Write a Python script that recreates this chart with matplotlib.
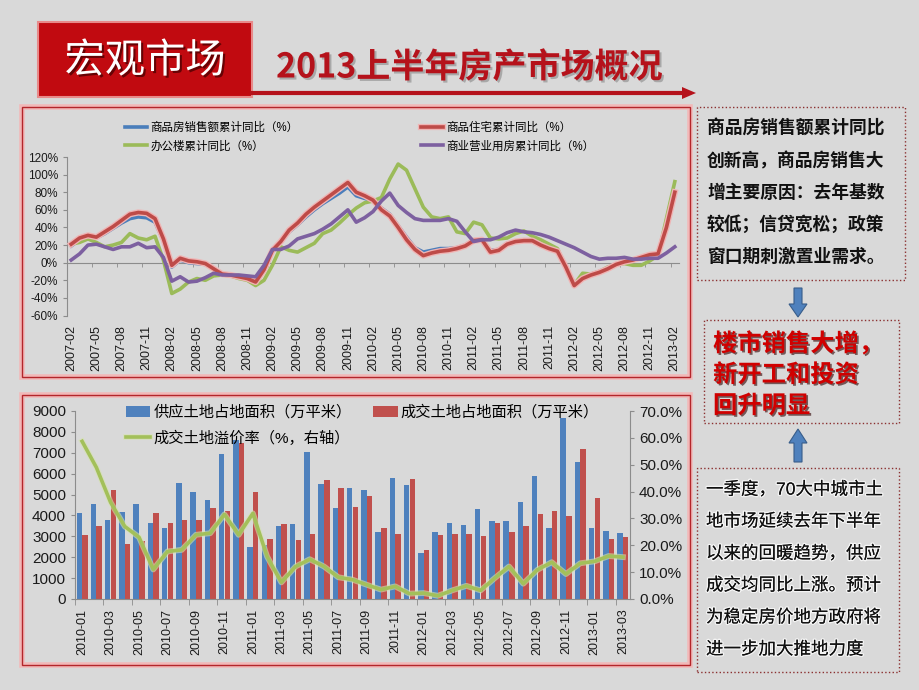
import matplotlib
matplotlib.use('Agg')
import matplotlib.pyplot as plt
import matplotlib.patheffects as pe
from matplotlib.patches import Rectangle, Polygon
from matplotlib.lines import Line2D
import numpy as np
import pandas as pd

plt.rcParams['font.family'] = ['Liberation Sans', 'Noto Sans CJK SC', 'DejaVu Sans']
plt.rcParams['axes.unicode_minus'] = False

W, H = 920, 690


def fx(x):
    return x / W


def fy(y):
    return 1 - y / H


# ---- top chart: cumulative YoY growth (%), 2007-02 .. 2013-02
months_top = pd.date_range('2007-02', '2013-02', freq='MS').strftime('%Y-%m').tolist()

sales_yoy = [19, 26, 29, 28, 33, 39, 45, 50, 52, 51, 46, 25,
             -5, 3, 0, -1, -2, -7, -13, -14, -15, -17, -20, -6,
             14, 23, 35, 43, 52, 60, 67, 73, 79, 86, 76, 73,
             70, 62, 55, 42, 29, 17, 12, 14, 16, 16, 17, 20,
             26, 26, 14, 15, 22, 24, 25, 24, 20, 16, 13, -5,
             -25, -17, -13, -10, -6, -2, 1, 3, 6, 8, 10, 38, 77]
housing_yoy = [21, 28, 31, 29, 35, 41, 48, 55, 57, 56, 50, 27,
               -3, 5, 2, 1, -1, -7, -13, -14, -16, -18, -22, -8,
               14, 24, 37, 45, 55, 63, 70, 77, 84, 91, 80, 76,
               71, 60, 53, 40, 26, 15, 8, 11, 13, 14, 16, 19,
               25, 26, 12, 14, 21, 24, 25, 25, 20, 16, 13, -5,
               -26, -18, -14, -11, -7, -2, 1, 3, 6, 9, 10, 40, 80]
office_yoy = [21, 23, 27, 23, 18, 20, 23, 33, 28, 26, 30, 3,
              -35, -30, -22, -18, -20, -15, -14, -15, -18, -20, -26, -20,
              -3, 18, 14, 12, 17, 22, 33, 37, 45, 54, 62, 68,
              70, 74, 95, 112, 105, 84, 63, 52, 50, 52, 35, 33,
              46, 43, 28, 27, 28, 33, 36, 30, 26, 21, 16, -5,
              -25, -12, -13, -10, -5, -2, -1, -3, -3, 2, 8, 50, 92]
commercial_yoy = [3, 10, 20, 21, 18, 15, 18, 18, 22, 17, 18, 6,
                  -21, -16, -22, -21, -17, -12, -14, -14, -14, -15, -16, -3,
                  15, 15, 19, 27, 30, 33, 38, 44, 52, 60, 46, 51,
                  58, 70, 79, 65, 57, 50, 48, 48, 48, 50, 47, 35,
                  24, 26, 26, 29, 34, 37, 35, 34, 32, 29, 25, 21,
                  17, 12, 7, 4, 5, 5, 6, 4, 4, 5, 5, 11, 18]

# ---- bottom chart: land supply / deals (10k m2) and premium rate (%)
months_bot = pd.date_range('2010-01', '2013-03', freq='MS').strftime('%Y-%m').tolist()

land_supply = [4110, 4560, 3780, 4160, 4560, 3620, 3410, 5570, 5100, 4760, 6920, 7600,
               2500, 2590, 3480, 3600, 7030, 5510, 4380, 5330, 5240, 3210, 5790, 5440,
               2220, 3190, 3630, 3560, 4290, 3750, 3750, 4650, 5900, 3400, 8650, 6550,
               3400, 3250, 3150]
land_deal = [3050, 3480, 5240, 2650, 2800, 4140, 3630, 3780, 3780, 4350, 4190, 7460,
             5130, 2870, 3600, 2810, 3130, 5680, 5290, 4400, 4920, 3380, 3110, 5760,
             2350, 3060, 3110, 3100, 3030, 3650, 3200, 3500, 4050, 4200, 3950, 7200,
             4850, 2850, 2950]
premium_rate = [58.7, 49, 36, 27, 23, 11, 17.7, 18.3, 23.9, 24.5, 31.5, 23.9,
                31.9, 15.8, 6.2, 12.1, 14.8, 12.1, 8.1, 7.2, 5.3, 3.5, 4.7, 2.0,
                2.2, 1.2, 3.2, 4.9, 3.2, 7.8, 12.1, 5.7, 10.9, 13.7, 9.3, 13.3,
                14.0, 16.0, 15.6]

note_top = ['商品房销售额累计同比', '创新高，商品房销售大', '增主要原因：去年基数',
            '较低；信贷宽松；政策', '窗口期刺激置业需求。']
note_mid = ['楼市销售大增，', '新开工和投资', '回升明显']
note_bot = ['一季度，70大中城市土', '地市场延续去年下半年', '以来的回暖趋势，供应',
            '成交均同比上涨。预计', '为稳定房价地方政府将', '进一步加大推地力度']

BG = '#d9d9d9'
fig = plt.figure(figsize=(9.2, 6.9), dpi=100, facecolor=BG)


def frame(x0, y0, x1, y1, glow=True, ls='-', ec='#b3262b', lw=1.0):
    if glow:
        fig.patches.append(Rectangle((fx(x0), fy(y1)), fx(x1) - fx(x0), fy(y0) - fy(y1),
                                     transform=fig.transFigure, fill=False,
                                     ec='#f2b8b8', lw=4, zorder=0))
    fig.patches.append(Rectangle((fx(x0), fy(y1)), fx(x1) - fx(x0), fy(y0) - fy(y1),
                                 transform=fig.transFigure, fill=False,
                                 ec=ec, lw=lw, ls=ls, zorder=1))


# header
fig.patches.append(Rectangle((fx(38), fy(97)), fx(252) - fx(38), fy(22) - fy(97),
                             transform=fig.transFigure, fc='#c10a10', ec='#e88a8a', lw=1.5))
fig.text(fx(145), fy(61), '宏观市场', color='white', fontsize=29, ha='center', va='center',
         family=['Noto Sans CJK SC'],
         path_effects=[pe.withSimplePatchShadow(offset=(1.5, -1.5), shadow_rgbFace='#400000', alpha=0.7)])
fig.text(fx(276), fy(67), '2013上半年房产市场概况', color='#b5121b', fontsize=24.5,
         fontweight='bold', ha='left', va='center', family=['Noto Sans CJK SC'],
         path_effects=[pe.withSimplePatchShadow(offset=(1.5, -1.5), shadow_rgbFace='#888888', alpha=0.6)])
fig.lines.append(Line2D([fx(252), fx(684)], [fy(93), fy(93)], transform=fig.transFigure,
                        color='#b5121b', lw=3))
fig.patches.append(Polygon([(fx(682), fy(87)), (fx(696), fy(93)), (fx(682), fy(99))],
                           closed=True, transform=fig.transFigure, fc='#b5121b', ec='none'))

frame(22, 107, 690, 377)
frame(22, 395, 690, 665)

# ---- top chart
ax1 = fig.add_axes([fx(67), fy(315.5), fx(679) - fx(67), fy(157) - fy(315.5)])
ax1.set_facecolor('none')
xt = np.arange(len(months_top))
l_sales, = ax1.plot(xt, sales_yoy, color='#4a7ebb', lw=2.6, zorder=3)
l_house, = ax1.plot(xt, housing_yoy, color='#be4b48', lw=2.6, zorder=4,
                    path_effects=[pe.Stroke(linewidth=4.5, foreground='#f0b4b4'), pe.Normal()])
l_office, = ax1.plot(xt, office_yoy, color='#9bbb59', lw=2.6, zorder=3)
l_comm, = ax1.plot(xt, commercial_yoy, color='#7d60a0', lw=2.6, zorder=5)
ax1.set_xlim(-0.5, len(months_top) - 0.5)
ax1.set_ylim(-60, 120)
ax1.set_yticks(range(-60, 121, 20))
ax1.set_yticklabels([f'{v}%' for v in range(-60, 121, 20)])
ax1.spines['bottom'].set_position(('data', 0))
for s in ['top', 'right']:
    ax1.spines[s].set_visible(False)
for s in ['left', 'bottom']:
    ax1.spines[s].set_color('#8c8c8c')
ax1.set_xticks(xt[::3])
ax1.set_xticklabels(months_top[::3], rotation=90)
ax1.set_xticks(np.arange(2.5, len(months_top), 3), minor=True)
ax1.tick_params(axis='x', which='major', length=0, pad=45, labelsize=9, colors='#1a1a1a')
ax1.tick_params(axis='x', which='minor', length=3, color='#8c8c8c')
ax1.tick_params(axis='y', length=3, color='#8c8c8c', labelsize=8.5, labelcolor='#1a1a1a')
ax1.legend([l_sales, l_office, l_house, l_comm],
           ['商品房销售额累计同比（%）', '办公楼累计同比（%）', '商品住宅累计同比（%）', '商业营业用房累计同比（%）'],
           ncol=2, loc='upper left', bbox_to_anchor=(fx(125), fy(122)), bbox_transform=fig.transFigure,
           frameon=False, fontsize=8.3, handlelength=1.9, handletextpad=0.3,
           columnspacing=10.6, labelspacing=0.55, borderpad=0, borderaxespad=0)

# ---- bottom chart
ax2 = fig.add_axes([fx(75), fy(599), fx(630) - fx(75), fy(411) - fy(599)])
ax2.set_facecolor('none')
xb = np.arange(len(months_bot))
b1 = ax2.bar(xb - 0.2, land_supply, 0.38, color='#4f81bd', zorder=2)
b2 = ax2.bar(xb + 0.2, land_deal, 0.38, color='#c0504d', zorder=2)
ax2.set_xlim(-0.5, len(months_bot) - 0.5)
ax2.set_ylim(0, 9000)
ax2.set_yticks(range(0, 9001, 1000))
ax2.set_xticks(xb[::2])
ax2.set_xticklabels(months_bot[::2], rotation=90)
ax2.set_xticks(np.arange(-0.5, len(months_bot), 2), minor=True)
ax2.tick_params(axis='x', which='major', length=0, pad=7, labelsize=9, colors='#1a1a1a')
ax2.tick_params(axis='x', which='minor', length=4, color='#8c8c8c')
ax2.tick_params(axis='y', length=3, color='#8c8c8c', labelsize=11, labelcolor='#1a1a1a')
for s in ['top', 'right']:
    ax2.spines[s].set_visible(False)
for s in ['left', 'bottom']:
    ax2.spines[s].set_color('#8c8c8c')

ax3 = ax2.twinx()
l_prem, = ax3.plot(xb, premium_rate, color='#a3c05a', lw=2.6, zorder=5,
                   path_effects=[pe.Stroke(linewidth=4.2, foreground='#d6e3b0', alpha=0.6), pe.Normal()])
ax3.set_ylim(0, 70)
ax3.set_yticks(range(0, 71, 10))
ax3.set_yticklabels([f'{v:.1f}%' for v in range(0, 71, 10)])
ax3.tick_params(axis='y', length=3, color='#8c8c8c', labelsize=11, labelcolor='#1a1a1a')
for s in ['top', 'left', 'bottom']:
    ax3.spines[s].set_visible(False)
ax3.spines['right'].set_color('#8c8c8c')
ax3.legend([b1, l_prem, b2],
           ['供应土地占地面积（万平米）', '成交土地溢价率（%，右轴）', '成交土地占地面积（万平米）'],
           ncol=2, loc='upper left', bbox_to_anchor=(fx(126), fy(405)), bbox_transform=fig.transFigure,
           frameon=False, fontsize=11, handlelength=1.6, handleheight=0.7, handletextpad=0.2,
           columnspacing=1.4, labelspacing=0.7, borderpad=0, borderaxespad=0)

# ---- right notes
frame(697, 107, 905, 280, glow=False, ls=':', ec='#8b3030')
for i, t in enumerate(note_top):
    fig.text(fx(707), fy(129 + i * 32), t, fontsize=12.8, fontweight='bold', color='#111111',
             ha='left', va='center', family=['Noto Sans CJK SC'])

blue = '#4f81bd'
fig.patches.append(Polygon([(fx(794), fy(288)), (fx(802), fy(288)), (fx(802), fy(304)), (fx(807), fy(304)),
                            (fx(798), fy(317)), (fx(789), fy(304)), (fx(794), fy(304))],
                           closed=True, transform=fig.transFigure, fc=blue, ec='#385d8a', lw=0.8))

frame(704, 320, 899, 423, glow=False, ls=':', ec='#8b3030')
for i, t in enumerate(note_mid):
    fig.text(fx(713), fy(344 + i * 31), t, fontsize=17.5, fontweight='bold', color='#d00000',
             ha='left', va='center', family=['Noto Sans CJK SC'],
             path_effects=[pe.withSimplePatchShadow(offset=(1.2, -1.2), shadow_rgbFace='#300000', alpha=0.6)])

fig.patches.append(Polygon([(fx(798), fy(429)), (fx(807), fy(443)), (fx(802), fy(443)), (fx(802), fy(462)),
                            (fx(794), fy(462)), (fx(794), fy(443)), (fx(789), fy(443))],
                           closed=True, transform=fig.transFigure, fc=blue, ec='#385d8a', lw=0.8))

frame(697, 468, 899, 672, glow=False, ls=':', ec='#8b3030')
for i, t in enumerate(note_bot):
    fig.text(fx(706), fy(489 + i * 32), t, fontsize=12.6, color='#111111',
             ha='left', va='center', family=['Liberation Sans', 'Noto Sans CJK SC'],
             path_effects=[pe.withStroke(linewidth=2, foreground='#f4f4f4'), pe.Normal()])

fig.savefig('out.png', dpi=100, facecolor=BG)
